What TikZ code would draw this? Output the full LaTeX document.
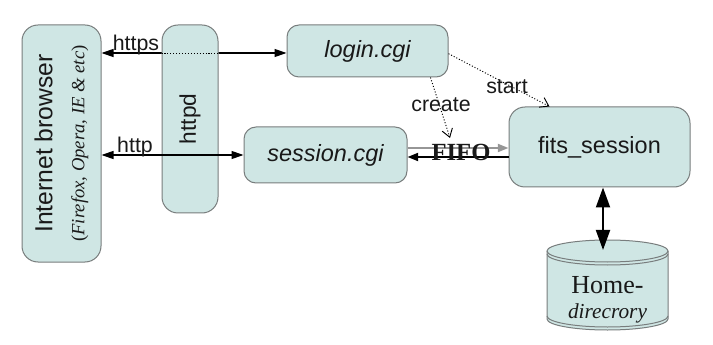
\documentclass[tikz,border=0pt]{standalone}
\usepackage{fontspec}
\setmainfont{Liberation Serif}
\setsansfont{Liberation Sans}
\usetikzlibrary{arrows.meta}
\definecolor{boxfill}{RGB}{207,230,228}
\definecolor{boxline}{RGB}{120,125,125}
\definecolor{txt}{RGB}{25,25,25}
\definecolor{fifogray}{RGB}{150,150,150}
\tikzset{
 box/.style={draw=boxline, fill=boxfill, line width=0.75pt, rounded corners=9pt, inner sep=0pt, text=txt, font=\sffamily\fontsize{17.6}{20}\selectfont},
 conn/.style={line width=0.9pt, {Triangle[length=9pt,width=6pt]}-{Triangle[length=9pt,width=6pt]}},
 lbl/.style={font=\sffamily\fontsize{16}{18}\selectfont, text=txt, inner sep=0pt},
 finedots/.style={dash pattern=on 0.8pt off 1.4pt, line width=0.7pt},
 dotarrow/.style={finedots, -{Straight Barb[length=6pt,width=8pt]}},
 fifoarrow/.style={line width=1.5pt, -{Triangle[length=8pt,width=6pt]}},
 bigarrow/.style={line width=1.5pt, {Triangle[length=15pt,width=10.5pt]}-{Triangle[length=15pt,width=10.5pt]}},
}
\begin{document}
\begin{tikzpicture}[x=0.75pt,y=-0.75pt]
\useasboundingbox (0,0) rectangle (713,345);
% nodes
\node[box, rounded corners=12pt, rotate=90, minimum width=177.75pt, minimum height=59.25pt, align=center, font=\sffamily\fontsize{18.5}{24}\selectfont] (browser) at (61.5,143.5)
  {Internet browser\\{\rmfamily\fontsize{14}{16}\selectfont (\textit{Firefox, Opera, IE \& etc})}};
\node[box, font=\sffamily\itshape\fontsize{17.6}{20}\selectfont, minimum width=120.75pt, minimum height=39pt] (login) at (367.5,51) {login.cgi};
\node[box, font=\sffamily\itshape\fontsize{17.6}{20}\selectfont, minimum width=122.25pt, minimum height=42pt] (session) at (325.5,155) {session.cgi};
\node[box, rounded corners=12pt, minimum width=135.75pt, minimum height=60pt] (fits) at (599.5,147) {fits\_session};
% https connector (behind httpd)
\coordinate (ls) at ([yshift=-1.5pt]login.west);
\draw[conn] (browser.south |- ls) -- (ls);
\node[box, rounded corners=12pt, rotate=90, minimum width=141pt, minimum height=42pt, font=\sffamily\fontsize{17}{20}\selectfont] (httpd) at (190,119) {httpd};
\draw[finedots] (httpd.north |- ls) -- (httpd.south |- ls);
% http connector
\draw[conn] (browser.south |- session.west) -- (session.west);
\node[lbl] (lhttps) at (136,45) {https};
\node[lbl] (lhttp) at (135,147) {http};
% FIFO
\coordinate (g1) at ([yshift=5.25pt]session.east);
\draw[fifoarrow, fifogray] (g1) -- (g1 -| fits.west);
\coordinate (b1) at ([yshift=-1.5pt]session.east);
\draw[fifoarrow] (b1 -| fits.west) -- (b1);
\node[font=\rmfamily\bfseries\fontsize{18.5}{20}\selectfont, text=txt, inner sep=0pt] (fifo) at (461,152) {FIFO};
% create / start
\coordinate (crt) at (450,138);
\draw[dotarrow] ([xshift=-13.5pt]login.south east) -- (crt);
\node[lbl] (lcreate) at (441,105) {create};
\draw[dotarrow] ([yshift=-2pt]login.east) -- ([xshift=30.75pt]fits.north west);
\node[lbl] (lstart) at (507,87) {start};
% cylinder
\fill[boxfill] (547,251) -- (547,319) arc[start angle=180,end angle=360,x radius=45.375pt,y radius=8.25pt] -- (668,251) arc[start angle=0,end angle=180,x radius=45.375pt,y radius=8.25pt] -- cycle;
\draw[boxline, line width=0.75pt] (547,251) -- (547,319) arc[start angle=180,end angle=360,x radius=45.375pt,y radius=8.25pt] -- (668,251) arc[start angle=0,end angle=180,x radius=45.375pt,y radius=8.25pt];
\draw[boxline, line width=0.75pt] (547,251) arc[start angle=180,end angle=360,x radius=45.375pt,y radius=8.25pt];
\draw[boxline, line width=0.75pt] (547,254) arc[start angle=180,end angle=360,x radius=45.375pt,y radius=8.25pt];
\draw[boxline, line width=0.75pt] (547,316) arc[start angle=180,end angle=360,x radius=45.375pt,y radius=8.25pt];
\node[align=center, text=txt, inner sep=0pt, font=\rmfamily\fontsize{19.5}{18.75}\selectfont] (home) at (607.5,300)
  {Home-\\{\itshape\fontsize{16}{18}\selectfont direcrory}};
% vertical arrow
\coordinate (ht) at (603,250);
\draw[bigarrow] (ht |- fits.south) -- (ht);
\end{tikzpicture}
\end{document}
